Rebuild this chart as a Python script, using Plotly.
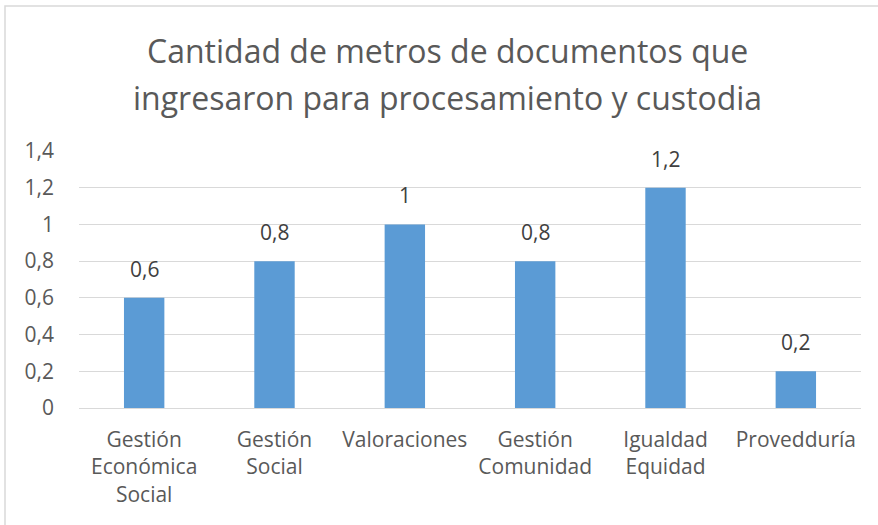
import plotly.graph_objects as go

categories = ["Gestión<br>Económica<br>Social", "Gestión<br>Social", "Valoraciones",
              "Gestión<br>Comunidad", "Igualdad<br>Equidad", "Provedduría"]
values = [0.6, 0.8, 1.0, 0.8, 1.2, 0.2]
tick_vals = [0, 0.2, 0.4, 0.6, 0.8, 1.0, 1.2, 1.4]
tick_text = ["0", "0,2", "0,4", "0,6", "0,8", "1", "1,2", "1,4"]
title_lines = ["Cantidad de metros de documentos que",
               "ingresaron para procesamiento y custodia"]

def fmt(v):
    return ("%g" % v).replace(".", ",")

FONT = "Open Sans"
fig = go.Figure()
fig.add_trace(go.Bar(x=categories, y=values, marker=dict(color="#5b9bd5", line=dict(width=0)),
                     hoverinfo="skip"))

for c, v in zip(categories, values):
    fig.add_annotation(x=c, y=v, text=fmt(v), showarrow=False, yanchor="bottom", yshift=13,
                       font=dict(family=FONT, size=21, color="#404040"))

# title (two lines)
for line, yp in zip(title_lines, [(408 - 50) / 257, (408 - 97) / 257]):
    fig.add_annotation(xref="paper", yref="paper", x=(447 - 79) / 782, y=yp,
                       xanchor="center", yanchor="middle", showarrow=False, text=line,
                       font=dict(family=FONT, size=32, color="#595959"))

fig.update_layout(
    width=878, height=525,
    margin=dict(l=79, r=17, t=151, b=117),
    paper_bgcolor="white", plot_bgcolor="white",
    bargap=0.69,
    showlegend=False,
    xaxis=dict(showgrid=False, showline=False, ticks="", ticklabelstandoff=17,
               tickfont=dict(family=FONT, size=21, color="#595959")),
    yaxis=dict(range=[0, 1.4], tickvals=tick_vals, ticktext=tick_text, showgrid=True,
               gridcolor="#d9d9d9", gridwidth=1, zeroline=True, zerolinecolor="#d9d9d9",
               zerolinewidth=1, showline=False, ticks="", ticklabelstandoff=24,
               tickfont=dict(family=FONT, size=21, color="#595959")),
)

# chart border
fig.add_shape(type="rect", xref="paper", yref="paper",
              x0=(5 - 79) / 782, x1=(895 - 79) / 782,
              y0=(408 - 545) / 257, y1=(408 - 6) / 257,
              line=dict(color="#d9d9d9", width=1.5), fillcolor="rgba(0,0,0,0)", layer="below")

fig.write_html("out.html", config={"displayModeBar": False},
               post_script="document.body.style.margin='0';document.body.style.overflow='hidden';")
